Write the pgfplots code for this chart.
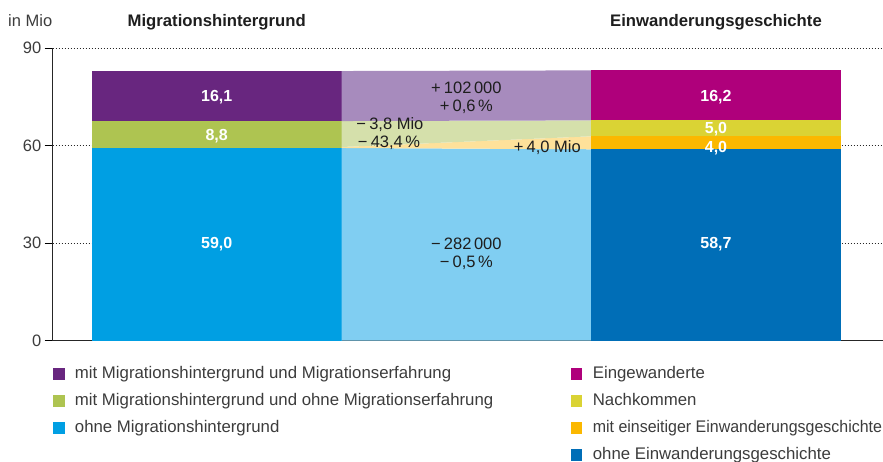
\documentclass[border=0pt]{standalone}
\usepackage{fontspec}
\setmainfont{Liberation Sans}
\usepackage{pgfplots}
\pgfplotsset{compat=1.18}
\definecolor{cPurple}{HTML}{68267F}
\definecolor{cGreen}{HTML}{AEC451}
\definecolor{cBlue}{HTML}{009FE3}
\definecolor{cMagenta}{HTML}{AF007B}
\definecolor{cYellow}{HTML}{DAD334}
\definecolor{cOrange}{HTML}{FBB800}
\definecolor{cDarkBlue}{HTML}{006EB7}
\definecolor{lPurple}{HTML}{A78BBD}
\definecolor{lGreen}{HTML}{D5E0AB}
\definecolor{lOrange}{HTML}{FEE19A}
\definecolor{lBlue}{HTML}{80CEF2}
\definecolor{txt}{HTML}{3C3C3C}
\definecolor{dark}{HTML}{1E1E1E}
\newcommand\legsq[1]{\addlegendimage{legend image code/.code={\fill[#1] (0bp,-5.5bp) rectangle (10.5bp,5.5bp);}}}
\newcommand\fbar{\fontsize{16bp}{18bp}\selectfont\bfseries\color{white}}
\newcommand\fmid{\fontsize{16.5bp}{18bp}\selectfont\color{dark}}
\newcommand\msp{\hspace{3.2bp}}
\newcommand\mts{\hspace{2.6bp}}
\begin{document}
\begin{tikzpicture}
\path[use as bounding box] (0,0) rectangle (883bp,-462bp);
\begin{axis}[
  at={(52.7bp,-340.5bp)}, anchor=south west,
  scale only axis, width=830.3bp, height=292.2bp,
  xmin=-0.657, xmax=2.669, ymin=0, ymax=90,
  axis lines*=left,
  xtick=\empty, ytick={0,30,60,90},
  ymajorgrids,
  grid style={black!85, line width=0.9bp, dash pattern=on 0.9bp off 2.1bp},
  tick align=outside, major tick length=8bp,
  tick style={black, line width=1.1bp},
  axis line style={line width=1.2bp, black!85},
  clip=false,
  /pgf/number format/assume math mode=true,
  yticklabel style={font=\fontsize{16.5bp}{18bp}\selectfont, text=txt},
  legend columns=2, legend cell align=left,
  legend style={at={(0.0004,-0.0907)}, anchor=north west, draw=none, fill=none,
    inner sep=0pt, outer sep=0pt, row sep=13bp,
    nodes={inner sep=0pt, text height=11bp, text depth=3bp,
      font=\fontsize{16.8bp}{18bp}\selectfont, text=txt},
    /tikz/every odd column/.append style={column sep=11bp}},
]
% left bar
\addplot[fill=cBlue, draw=none, forget plot] coordinates {(-0.5,0) (0.5,0) (0.5,59.3) (-0.5,59.3)} -- cycle;
\addplot[fill=cGreen, draw=none, forget plot] coordinates {(-0.5,59.3) (0.5,59.3) (0.5,67.6) (-0.5,67.6)} -- cycle;
\addplot[fill=cPurple, draw=none, forget plot] coordinates {(-0.5,67.6) (0.5,67.6) (0.5,83.0) (-0.5,83.0)} -- cycle;
% middle transitions
\addplot[fill=lBlue, draw=none, forget plot] coordinates {(0.5,0) (1.5,0) (1.5,58.9) (0.5,59.3)} -- cycle;
\addplot[fill=lOrange, draw=none, forget plot] coordinates {(0.5,59.3) (1.5,58.9) (1.5,62.9) (0.5,59.6)} -- cycle;
\addplot[fill=lGreen, draw=none, forget plot] coordinates {(0.5,59.6) (1.5,62.9) (1.5,67.8) (0.5,67.6)} -- cycle;
\addplot[fill=lPurple, draw=none, forget plot] coordinates {(0.5,67.6) (1.5,67.8) (1.5,83.2) (0.5,83.0)} -- cycle;
% right bar
\addplot[fill=cDarkBlue, draw=none, forget plot] coordinates {(1.5,0) (2.5,0) (2.5,58.9) (1.5,58.9)} -- cycle;
\addplot[fill=cOrange, draw=none, forget plot] coordinates {(1.5,58.9) (2.5,58.9) (2.5,62.9) (1.5,62.9)} -- cycle;
\addplot[fill=cYellow, draw=none, forget plot] coordinates {(1.5,62.9) (2.5,62.9) (2.5,67.8) (1.5,67.8)} -- cycle;
\addplot[fill=cMagenta, draw=none, forget plot] coordinates {(1.5,67.8) (2.5,67.8) (2.5,83.2) (1.5,83.2)} -- cycle;
% legend
\legsq{cPurple}\addlegendentry{\makebox[496bp][l]{mit Migrationshintergrund und Migrationserfahrung}}
\legsq{cMagenta}\addlegendentry{Eingewanderte}
\legsq{cGreen}\addlegendentry{\makebox[496bp][l]{mit Migrationshintergrund und ohne Migrationserfahrung}}
\legsq{cYellow}\addlegendentry{Nachkommen}
\legsq{cBlue}\addlegendentry{\makebox[496bp][l]{ohne Migrationshintergrund}}
\legsq{cOrange}\addlegendentry{\addfontfeatures{FakeStretch=0.95}mit einseitiger Einwanderungsgeschichte}
\addlegendimage{empty legend}\addlegendentry{}
\legsq{cDarkBlue}\addlegendentry{ohne Einwanderungsgeschichte}
% bar labels
\node[anchor=base] at (axis cs:0,73.6) {\fbar 16,1};
\node[anchor=base] at (axis cs:0,61.6) {\fbar 8,8};
\node[anchor=base] at (axis cs:0,28.2) {\fbar 59,0};
\node[anchor=base] at (axis cs:2,73.5) {\fbar 16,2};
\node[anchor=base] at (axis cs:2,63.8) {\fbar 5,0};
\node[anchor=base] at (axis cs:2,57.8) {\fbar 4,0};
\node[anchor=base] at (axis cs:2,28.2) {\fbar 58,7};
% middle labels
\node[anchor=base] at (axis cs:1.0,76.1) {\fmid +\msp102\mts000};
\node[anchor=base] at (axis cs:1.0,70.5) {\fmid +\msp0,6\mts\%};
\node[anchor=base west, inner sep=0pt] at (axis cs:0.559,65.0) {\fmid −\msp3,8 Mio};
\node[anchor=base west, inner sep=0pt] at (axis cs:0.565,59.5) {\fmid −\msp43,4\mts\%};
\node[anchor=base east, inner sep=0pt] at (axis cs:1.459,58.0) {\fmid +\msp4,0 Mio};
\node[anchor=base] at (axis cs:1.0,28.0) {\fmid −\msp282\mts000};
\node[anchor=base] at (axis cs:1.0,22.4) {\fmid −\msp0,5\mts\%};
% titles
\node[anchor=base, text=dark] at (axis cs:0,96.7) {\fontsize{16.7bp}{18bp}\selectfont\bfseries Migrationshintergrund};
\node[anchor=base, text=dark] at (axis cs:2,96.7) {\fontsize{16.7bp}{18bp}\selectfont\bfseries Einwanderungsgeschichte};
\node[anchor=base west, inner sep=0pt, text=txt] at (axis cs:-0.836,96.7) {\fontsize{16.5bp}{18bp}\selectfont in Mio};
\end{axis}
\end{tikzpicture}
\end{document}
